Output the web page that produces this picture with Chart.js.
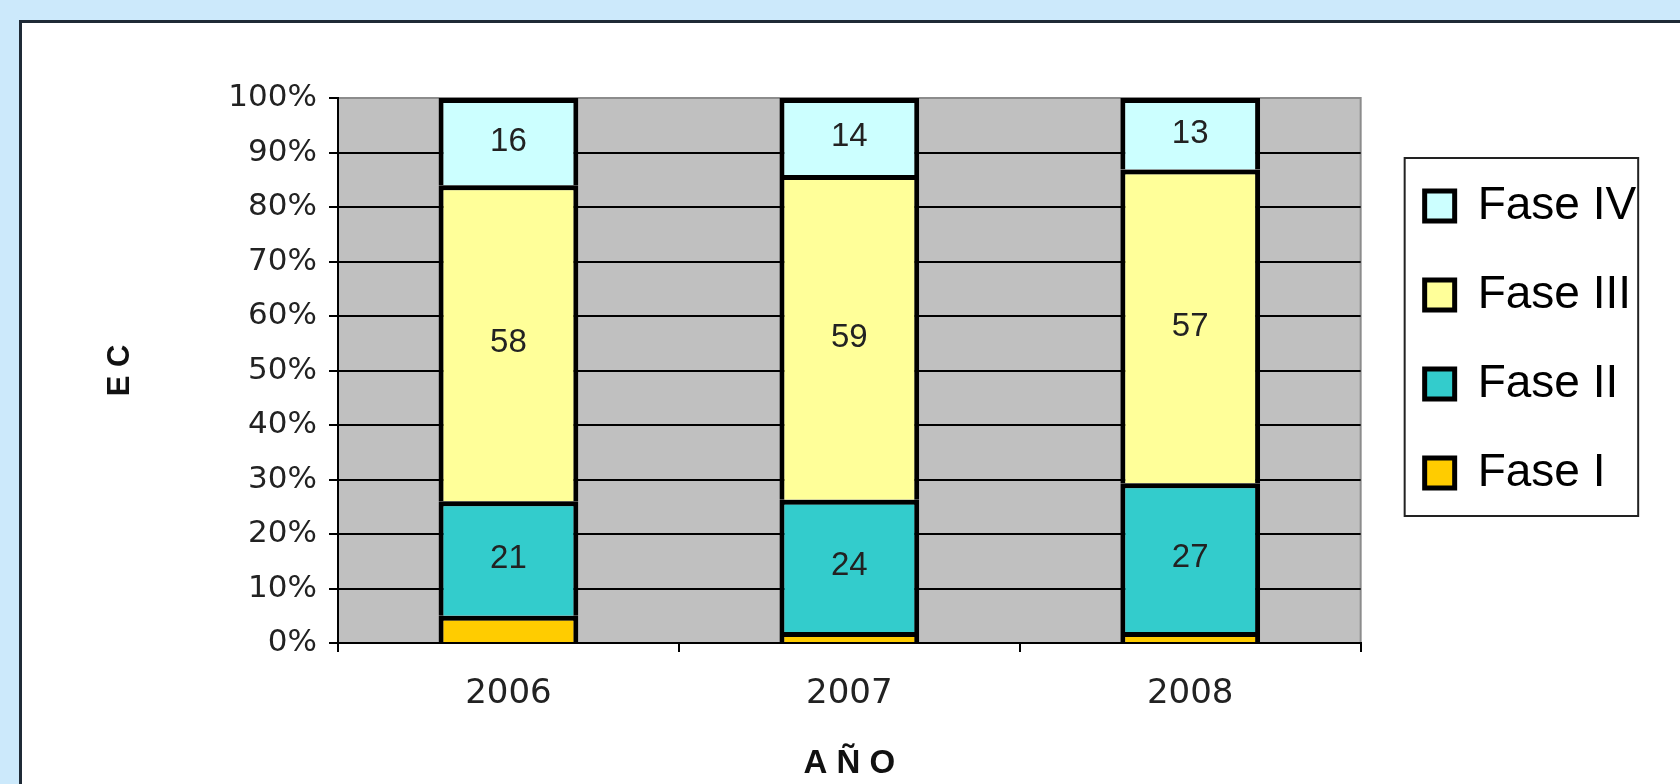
<!DOCTYPE html>
<html>
<head>
<meta charset="utf-8">
<script src="https://cdn.jsdelivr.net/npm/chart.js@4.4.1/dist/chart.umd.min.js"></script>
<style>
  html, body { margin: 0; padding: 0; }
  body { width: 1680px; height: 784px; background: #cce9fb; position: relative; overflow: hidden; }
  .panel { position: absolute; left: 19px; top: 20px; width: 1700px; height: 800px; background: #fff; border-top: 3px solid #1f2a36; border-left: 3px solid #1f2a36; }
  .wrap { position: absolute; left: 0; top: 0; width: 1680px; height: 784px; }
</style>
</head>
<body>
<div class="panel"></div>
<div class="wrap"><canvas id="chart"></canvas></div>
<script>
const years = ['2006', '2007', '2008'];
const faseI = [5, 2, 2];
const faseII = [21, 24, 27];
const faseIII = [58, 59, 57];
const faseIV = [16, 14, 13];
const yTicks = [0, 10, 20, 30, 40, 50, 60, 70, 80, 90, 100];

const series = [
  { label: 'Fase I', values: faseI, color: '#ffcc00', showValue: false },
  { label: 'Fase II', values: faseII, color: '#33cccc', showValue: true },
  { label: 'Fase III', values: faseIII, color: '#ffff99', showValue: true },
  { label: 'Fase IV', values: faseIV, color: '#ccffff', showValue: true }
];

// 100% stacked: each year normalised to its total
const totals = years.map((y, i) => series.reduce((s, d) => s + d.values[i], 0));

const datasets = series.map(s => ({
  label: s.label,
  data: s.values.map((v, i) => v / totals[i] * 100),
  raw: s.values,
  showValue: s.showValue,
  backgroundColor: s.color,
  borderColor: '#000',
  borderWidth: 5,
  borderSkipped: 'bottom',
  categoryPercentage: 1,
  barPercentage: 0.41
}));

const framePlugin = {
  id: 'frame',
  beforeDraw(chart) {
    const { ctx, chartArea: a } = chart;
    ctx.save();
    ctx.fillStyle = '#c0c0c0';
    ctx.fillRect(a.left, a.top, a.right - a.left, a.bottom - a.top);
    ctx.strokeStyle = '#8c8c8c';
    ctx.lineWidth = 2;
    ctx.strokeRect(a.left, a.top, a.right - a.left, a.bottom - a.top);
    ctx.restore();
  },
  afterDatasetsDraw(chart) {
    const ctx = chart.ctx;
    ctx.save();
    ctx.font = '33px "Liberation Sans", Arial, sans-serif';
    ctx.fillStyle = '#222';
    ctx.textAlign = 'center';
    ctx.textBaseline = 'middle';
    chart.data.datasets.forEach((ds, di) => {
      if (!ds.showValue) return;
      chart.getDatasetMeta(di).data.forEach((bar, i) => {
        ctx.fillText(String(ds.raw[i]), bar.x, (bar.y + bar.base) / 2);
      });
    });
    ctx.restore();
  },
  afterDraw(chart) {
    // border round the legend
    const boxes = chart.legend.legendHitBoxes;
    if (!boxes || !boxes.length) return;
    const left = Math.min(...boxes.map(b => b.left));
    const right = Math.max(...boxes.map(b => b.left + b.width));
    const top = Math.min(...boxes.map(b => b.top));
    const bottom = Math.max(...boxes.map(b => b.top + b.height));
    const ctx = chart.ctx;
    ctx.save();
    ctx.strokeStyle = '#222';
    ctx.lineWidth = 2;
    ctx.strokeRect(left - 20, top - 25, right - left + 22, bottom - top + 45);
    ctx.restore();
  }
};

new Chart(document.getElementById('chart'), {
  type: 'bar',
  data: { labels: years, datasets: datasets },
  options: {
    responsive: true,
    maintainAspectRatio: false,
    animation: false,
    layout: { padding: { left: 100, top: 98, right: 42, bottom: 0 } },
    plugins: {
      tooltip: { enabled: false },
      legend: {
        position: 'right',
        align: 'start',
        reverse: true,
        title: { display: true, text: '', font: { size: 30, lineHeight: 1 }, padding: { top: 6, bottom: 6 } },
        labels: {
          color: '#000',
          font: { family: '"Liberation Sans", Arial, sans-serif', size: 46 },
          boxWidth: 30,
          boxHeight: 30,
          padding: 43
        }
      }
    },
    scales: {
      x: {
        stacked: true,
        grid: { display: true, drawOnChartArea: false, offset: true, color: '#000', lineWidth: 2, tickLength: 9 },
        border: { display: true, color: '#000', width: 2 },
        ticks: {
          color: '#222',
          padding: 22,
          font: { family: '"DejaVu Sans", sans-serif', size: 34 }
        },
        title: {
          display: true,
          text: 'A Ñ O',
          color: '#111',
          font: { family: '"Liberation Sans", Arial, sans-serif', size: 33, weight: 'bold' },
          padding: { top: 0, bottom: 0 }
        },
        afterFit: s => { s.height = 141; }
      },
      y: {
        stacked: true,
        min: 0,
        max: 100,
        afterBuildTicks: s => { s.ticks = yTicks.map(v => ({ value: v })); },
        grid: {
          color: c => (c.tick && c.tick.value === 100) ? '#8c8c8c' : '#000',
          tickColor: '#000',
          lineWidth: 2,
          tickLength: 9
        },
        border: { display: true, color: '#000', width: 2 },
        ticks: {
          color: '#222',
          padding: 12,
          font: { family: '"DejaVu Sans", sans-serif', size: 31 },
          callback: v => v + '%'
        },
        title: {
          display: true,
          text: 'E C',
          color: '#111',
          font: { family: '"Liberation Sans", Arial, sans-serif', size: 31, weight: 'bold' },
          padding: { top: 2, bottom: 0 }
        },
        afterFit: s => { s.width = 238; }
      },
      yR: {
        type: 'linear',
        position: 'right',
        display: true,
        grid: { display: false },
        border: { display: false },
        ticks: { display: false },
        afterFit: s => { s.width = 21; }
      }
    }
  },
  plugins: [framePlugin]
});
</script>
</body>
</html>
